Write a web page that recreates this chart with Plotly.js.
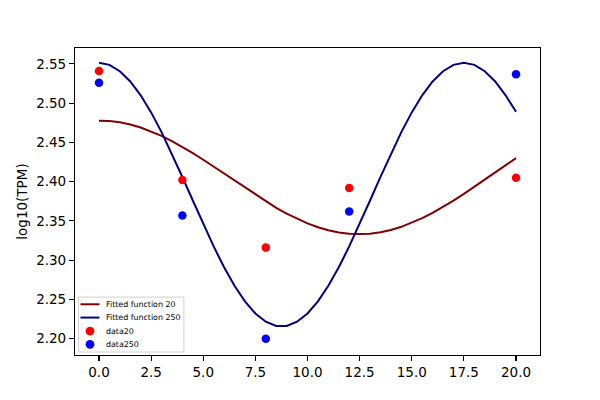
<!DOCTYPE html>
<html>
<head>
<meta charset="utf-8">
<script src="https://cdn.plot.ly/plotly-3.0.1.min.js"></script>
<style>html,body{margin:0;padding:0;background:#fff;}#chart{width:600px;height:400px;}</style>
</head>
<body>
<div id="chart"></div>
<script>
// Sample times (fitted curves)
var fitX = [0,0.5,1,1.5,2,2.5,3,3.5,4,4.5,5,5.5,6,6.5,7,7.5,8,8.5,9,9.5,10,10.5,11,11.5,12,12.5,13,13.5,14,14.5,15,15.5,16,16.5,17,17.5,18,18.5,19,19.5,20];
// Fitted function 20
var fit20 = [2.4775,2.4772,2.4757,2.4729,2.4690,2.4641,2.4583,2.4517,2.4444,2.4364,2.4279,2.4191,2.4101,2.4009,2.3919,2.3831,2.3746,2.3666,2.3593,2.3527,2.3469,2.3420,2.3381,2.3353,2.3336,2.3332,2.3338,2.3356,2.3385,2.3425,2.3475,2.3535,2.3602,2.3677,2.3758,2.3845,2.3934,2.4026,2.4118,2.4210,2.4300];
// Fitted function 250
var fit250 = [2.5515,2.5488,2.5407,2.5276,2.5100,2.4883,2.4631,2.4354,2.4060,2.3760,2.3460,2.3175,2.2909,2.2674,2.2476,2.2321,2.2216,2.2162,2.2162,2.2216,2.2321,2.2476,2.2674,2.2909,2.3175,2.3460,2.3760,2.4060,2.4354,2.4631,2.4883,2.5100,2.5276,2.5407,2.5488,2.5515,2.5488,2.5407,2.5276,2.5100,2.4890];
// Observed data
var dataX = [0,4,8,12,20];
var data20 = [2.541,2.402,2.316,2.392,2.405];
var data250 = [2.526,2.357,2.200,2.362,2.537];
var xTicks = [0,2.5,5,7.5,10,12.5,15,17.5,20];
var yTicks = [2.20,2.25,2.30,2.35,2.40,2.45,2.50,2.55];
var seriesNames = ['Fitted function 20','Fitted function 250','data20','data250'];
var seriesColors = ['#800000','#000080','#ff0000','#0000ff'];

var font = {family:'DejaVu Sans, sans-serif', size:13.5, color:'#000'};
var traces = [
  {x:fitX, y:fit20, mode:'lines', name:seriesNames[0], line:{color:seriesColors[0], width:2}},
  {x:fitX, y:fit250, mode:'lines', name:seriesNames[1], line:{color:seriesColors[1], width:2}},
  {x:dataX, y:data20, mode:'markers', name:seriesNames[2], marker:{color:seriesColors[2], size:8.5}},
  {x:dataX, y:data250, mode:'markers', name:seriesNames[3], marker:{color:seriesColors[3], size:8.5}}
];

// Plot area geometry in pixels
var W = 600, H = 400, mL = 75, mR = 59.5, mT = 48, mB = 44.5;
var pw = W - mL - mR, ph = H - mT - mB;
function px(x){ return (x - mL) / pw; }
function py(y){ return (H - mB - y) / ph; }

// Hand-built matplotlib-style legend
var shapes = [];
var annotations = [];
shapes.push({type:'rect', xref:'paper', yref:'paper', x0:px(78.5), x1:px(184), y0:py(352.5), y1:py(297.5),
  line:{color:'#d0d0d0', width:1}, fillcolor:'rgba(255,255,255,0.8)', layer:'above'});
var rowY = [304.7, 318, 331.5, 344.8];
for (var i = 0; i < 4; i++) {
  if (i < 2) {
    shapes.push({type:'line', xref:'paper', yref:'paper', x0:px(80.5), x1:px(99.5), y0:py(rowY[i]), y1:py(rowY[i]),
      line:{color:seriesColors[i], width:2}, layer:'above'});
  } else {
    var r = 4.4;
    shapes.push({type:'circle', xref:'paper', yref:'paper', x0:px(90-r), x1:px(90+r), y0:py(rowY[i]+r), y1:py(rowY[i]-r),
      line:{width:0}, fillcolor:seriesColors[i], layer:'above'});
  }
  annotations.push({xref:'paper', yref:'paper', x:px(104.5), y:py(rowY[i]), xanchor:'left', yanchor:'middle',
    showarrow:false, text:seriesNames[i], font:{family:'DejaVu Sans, sans-serif', size:7.9, color:'#000'}});
}

var axisCommon = {showgrid:false, zeroline:false, showline:true, linecolor:'#000', linewidth:1.1, mirror:true,
  ticks:'outside', ticklen:5, tickwidth:1.1, tickcolor:'#000', tickfont:font};
var layout = {
  width:W, height:H,
  margin:{l:mL, r:mR, t:mT, b:mB},
  paper_bgcolor:'#fff', plot_bgcolor:'#fff',
  font:font,
  showlegend:false,
  xaxis:Object.assign({}, axisCommon, {range:[-1.15,21.15], tickvals:xTicks, ticktext:xTicks.map(function(v){return v.toFixed(1);})}),
  yaxis:Object.assign({}, axisCommon, {range:[2.1792,2.5703], tickvals:yTicks, ticktext:yTicks.map(function(v){return v.toFixed(2);}),
    title:{text:'log10(TPM)', font:font, standoff:5}}),
  shapes:shapes,
  annotations:annotations
};
Plotly.newPlot('chart', traces, layout, {displayModeBar:false, staticPlot:true});
</script>
</body>
</html>
